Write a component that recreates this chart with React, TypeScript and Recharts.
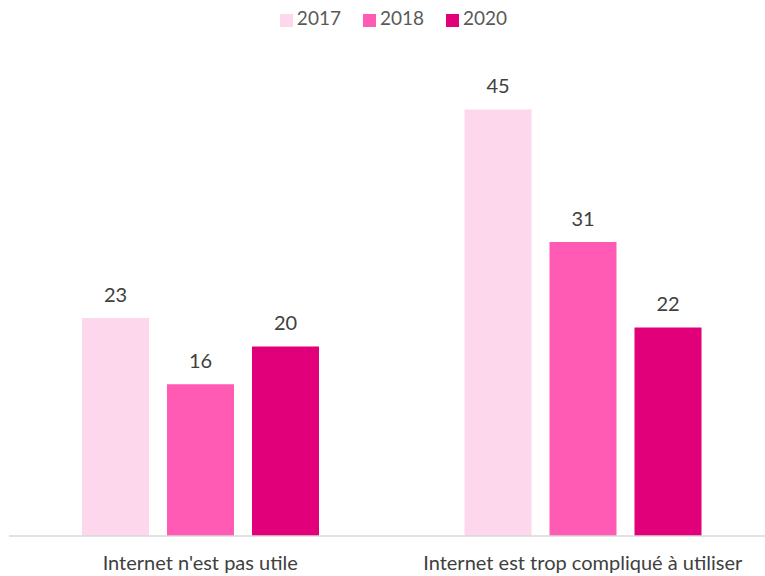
import React from 'react'
import { BarChart, Bar, XAxis, YAxis, Legend, LabelList } from 'recharts'

const categories = ["Internet n'est pas utile", 'Internet est trop compliqué à utiliser']
const values2017 = [23, 45]
const values2018 = [16, 31]
const values2020 = [20, 22]

const data = categories.map((name, i) => ({
  name,
  y2017: values2017[i],
  y2018: values2018[i],
  y2020: values2020[i]
}))

const FONT = 'Lato, "Open Sans", sans-serif'
const TEXT = '#404040'

const App: React.FC = () => {
  return (
    <div
      style={{
        position: 'absolute',
        left: 0,
        top: 0,
        width: 765,
        height: 576,
        overflow: 'hidden',
        background: '#fff',
        fontFamily: FONT
      }}
    >
      <BarChart
        width={774}
        height={576}
        data={data}
        margin={{ top: 39, right: 0, left: 9, bottom: 0 }}
        barCategoryGap={72}
        barGap={18}
      >
        <XAxis
          dataKey="name"
          axisLine={{ stroke: '#d9d9d9', strokeWidth: 1.5 }}
          tickLine={false}
          height={40}
          tickMargin={14}
          tick={{ fill: TEXT, fontSize: 20, fontFamily: FONT }}
        />
        <YAxis hide domain={[0, 50]} />
        <Legend
          verticalAlign="top"
          align="center"
          iconType="square"
          iconSize={13}
          wrapperStyle={{ top: 6, left: 22 }}
          formatter={(value: string) => (
            <span style={{ color: '#595959', fontSize: 19, fontFamily: FONT, paddingRight: 12 }}>{value}</span>
          )}
        />
        <Bar dataKey="y2017" name="2017" fill="#FDD7EC" barSize={67} isAnimationActive={false}>
          <LabelList dataKey="y2017" position="top" offset={16} fill={TEXT} fontSize={20} fontFamily={FONT} />
        </Bar>
        <Bar dataKey="y2018" name="2018" fill="#FF5AB4" barSize={67} isAnimationActive={false}>
          <LabelList dataKey="y2018" position="top" offset={16} fill={TEXT} fontSize={20} fontFamily={FONT} />
        </Bar>
        <Bar dataKey="y2020" name="2020" fill="#E2007A" barSize={67} isAnimationActive={false}>
          <LabelList dataKey="y2020" position="top" offset={16} fill={TEXT} fontSize={20} fontFamily={FONT} />
        </Bar>
      </BarChart>
    </div>
  )
}

export default App
